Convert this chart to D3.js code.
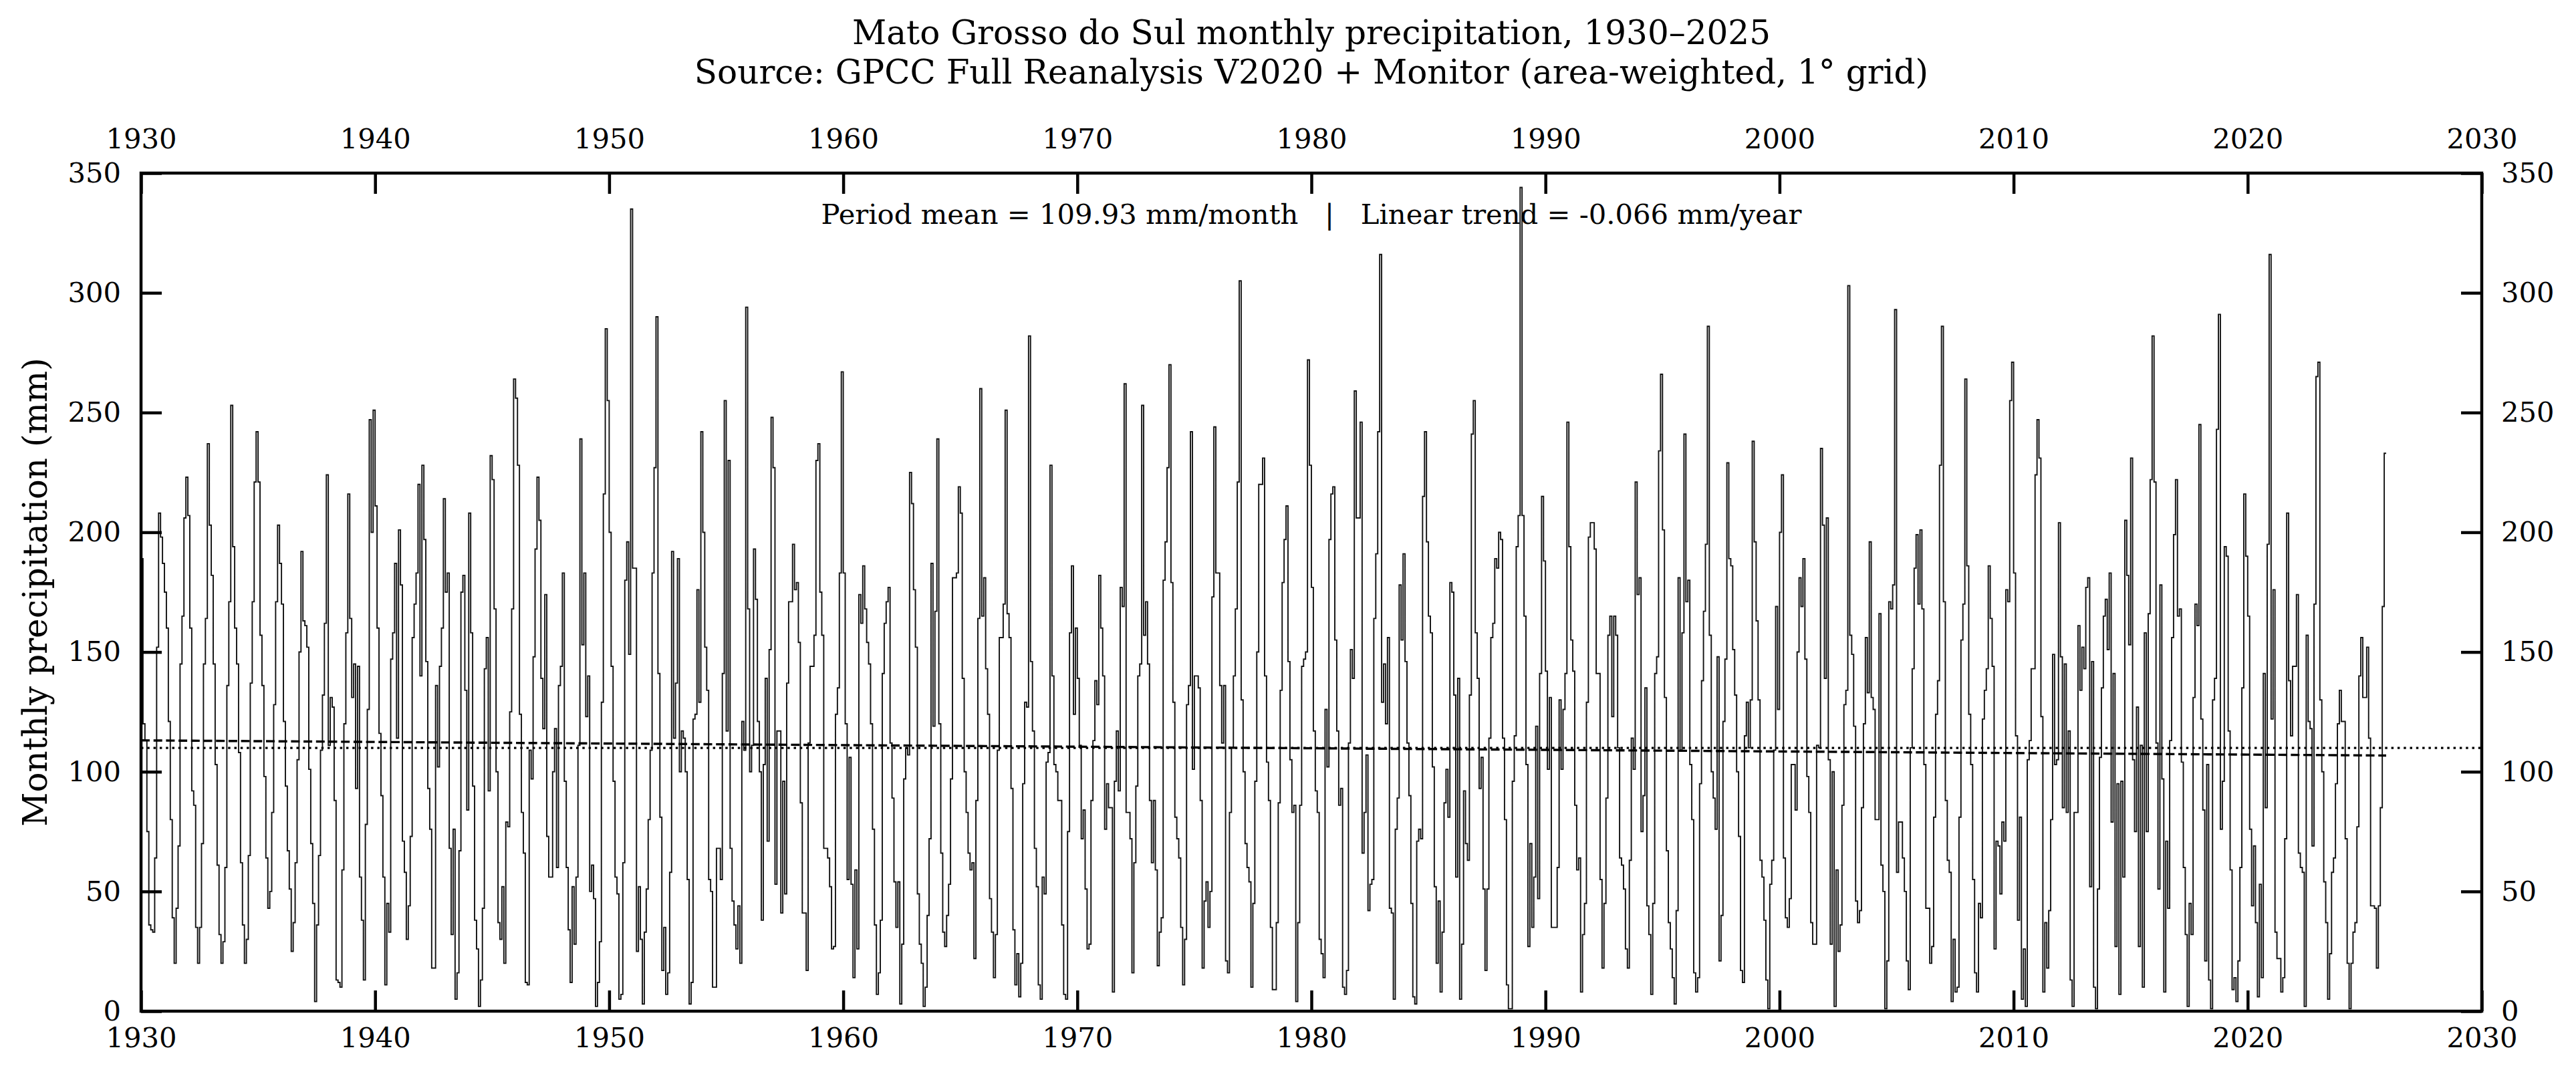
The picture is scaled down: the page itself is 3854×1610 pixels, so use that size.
<!DOCTYPE html>
<html>
<head>
<meta charset="utf-8">
<script src="https://cdn.jsdelivr.net/npm/d3@7"></script>
<style>
  html, body { margin: 0; padding: 0; background: #ffffff; }
  svg text { font-family: "DejaVu Serif", serif; fill: #000; }
</style>
</head>
<body>
<svg id="chart" width="3854" height="1610"></svg>
<script>
// ---------------- chart text ----------------
const titleLines = [
  "Mato Grosso do Sul monthly precipitation, 1930\u20132025",
  "Source: GPCC Full Reanalysis V2020 + Monitor (area-weighted, 1\u00b0 grid)"
];
const yLabel = "Monthly precipitation (mm)";
const periodMean = 109.93;      // mm/month
const trendPerYear = -0.066;    // mm/year
const annotation = `Period mean = ${periodMean.toFixed(2)} mm/month   |   Linear trend = ${trendPerYear.toFixed(3)} mm/year`;

// ---------------- axes ----------------
const xDomain = [1930, 2030];
const yDomain = [0, 350];
const xTicks = [1930, 1940, 1950, 1960, 1970, 1980, 1990, 2000, 2010, 2020, 2030];
const yTicks = [0, 50, 100, 150, 200, 250, 300, 350];

// ---------------- data: monthly precipitation (mm), Jan 1930 onward ----------------
const firstYear = 1930;
const precip1930s = [
  189,120,113,75,36,34,33,64,152,208,198,187,
  175,160,121,80,39,20,43,69,145,165,206,223,
  207,160,92,86,35,20,35,70,145,164,237,203,
  182,145,103,61,32,20,29,60,136,171,253,194,
  160,145,108,62,36,20,30,65,137,171,221,242,
  221,157,136,98,64,43,50,83,128,171,203,187,
  170,121,94,67,51,25,37,62,105,150,192,163,
  161,152,101,70,45,4,36,65,109,132,162,224,
  111,131,127,88,13,12,10,59,120,158,216,164,
  131,145,93,144,56,38,13,78,126,247,200,251
];
const precip1940s = [
  211,160,116,90,56,11,45,33,147,158,187,114,
  201,178,71,58,30,44,73,156,170,183,220,140,
  228,197,146,93,76,18,18,136,102,144,160,214,
  175,183,68,32,76,5,16,67,175,182,134,84,
  208,158,94,38,26,2,13,43,143,156,92,232,
  222,168,100,37,30,52,20,79,77,125,168,264,
  256,228,124,83,66,12,11,109,97,148,193,223,
  205,139,118,174,73,56,56,100,118,60,136,144,
  183,96,60,34,12,52,28,56,111,239,153,183,
  123,140,50,61,47,2,12,29,129,216,285,255
];
const precip1950s = [
  200,144,96,56,49,5,7,62,180,196,149,335,
  185,185,25,52,30,3,33,51,80,109,183,227,
  290,141,81,17,35,7,16,58,192,114,137,189,
  100,117,114,100,55,3,12,122,124,176,129,242,
  200,152,134,55,50,10,10,68,68,55,141,255,
  117,230,68,46,36,26,44,20,121,109,294,168,
  100,111,193,172,121,100,38,103,139,71,151,248,
  227,53,117,117,41,96,49,137,171,171,195,176,
  179,154,87,41,41,17,112,144,144,157,230,237,
  175,157,68,68,64,52,26,27,124,135,183,267
];
const precip1960s = [
  183,120,55,106,53,14,59,26,174,162,186,168,
  154,145,120,76,36,7,16,38,141,162,171,177,
  112,89,54,35,54,3,28,97,110,107,225,212,
  176,152,49,28,20,2,10,40,72,187,119,167,
  239,120,66,33,27,40,53,97,181,181,183,219,
  208,139,100,83,66,59,62,22,88,164,260,165,
  181,143,124,47,33,14,32,109,156,156,170,251,
  166,156,93,34,11,24,6,20,95,129,127,282,
  146,117,68,52,11,5,56,49,104,108,228,140,
  103,100,88,88,36,7,5,75,158,186,124,160
];
const precip1970s = [
  139,111,72,84,51,26,28,88,113,138,128,182,
  160,140,76,95,85,85,8,96,117,92,177,169,
  262,83,83,72,16,62,94,140,145,253,157,171,
  145,88,62,88,59,19,33,39,180,196,227,270,
  179,129,81,72,64,35,11,30,128,136,242,101,
  140,140,135,88,18,46,54,35,50,173,244,183,
  183,136,112,136,21,16,83,110,140,168,221,305,
  130,100,70,60,54,10,45,96,150,220,220,231,
  140,104,88,35,9,9,37,87,134,179,197,211,
  146,105,83,86,4,37,86,144,147,150,272,228
];
const precip1980s = [
  177,117,92,83,30,24,14,126,102,197,216,219,
  155,117,86,93,10,7,17,112,151,139,259,206,
  206,246,66,83,107,42,53,55,164,191,242,316,
  129,145,120,156,43,41,5,76,89,178,155,191,
  146,112,90,45,6,3,71,76,72,215,242,196,
  165,158,102,52,20,46,8,33,87,101,81,179,
  175,132,56,139,5,28,92,70,63,132,241,255,
  158,139,93,106,51,17,51,114,156,162,189,185,
  200,197,114,80,11,1,1,96,115,194,207,344,
  207,165,103,27,70,35,56,119,47,141,215,188
];
const precip1990s = [
  142,101,131,35,35,35,60,130,101,126,141,246,
  194,155,142,86,59,64,8,32,45,129,198,204,
  204,193,141,141,55,18,45,89,157,165,123,165,
  157,110,64,61,51,26,18,63,114,101,221,174,
  181,75,90,135,44,32,7,45,141,148,234,266,
  201,131,67,37,26,14,3,42,181,109,158,241,
  171,180,103,80,16,8,14,95,138,167,195,286,
  157,100,89,76,148,21,40,121,147,229,189,186,
  151,132,100,73,17,12,115,129,110,130,238,196,
  163,130,63,56,38,13,1,53,63,109,169,126
];
const precip2000s = [
  200,224,64,39,35,47,103,103,84,150,181,169,
  189,147,98,83,37,28,28,111,110,235,203,139,
  206,105,28,100,2,59,25,36,86,128,134,303,
  157,149,119,46,37,42,85,120,156,133,196,131,
  126,80,80,166,61,50,1,21,171,168,178,293,
  58,79,79,64,50,21,9,110,143,185,199,170,
  201,168,103,43,43,20,27,81,124,138,228,286,
  171,88,63,58,4,30,8,10,81,155,170,264,
  186,124,103,55,16,8,45,39,122,134,143,186,
  164,144,26,71,69,49,79,71,176,171,255,271
];
const precip2010s = [
  183,115,38,81,5,26,2,105,113,143,143,224,
  247,231,123,8,37,18,42,80,149,103,105,204,
  148,85,145,83,117,13,2,83,83,161,134,152,
  143,177,181,52,146,10,1,51,106,135,165,172,
  151,183,79,141,27,95,7,96,56,205,182,153,
  231,105,75,127,27,111,10,158,75,166,222,282,
  221,112,51,178,97,8,71,43,113,156,199,222,
  165,168,104,60,32,2,45,32,131,170,161,245,
  122,84,21,103,13,1,130,139,243,291,76,96,
  194,190,117,59,9,14,4,21,60,135,216,190
];
const precip2020s = [
  165,76,44,69,37,6,53,14,141,85,195,316,
  122,176,33,22,22,8,14,72,208,138,115,144,
  144,174,66,60,58,2,157,121,118,69,170,265,
  271,130,100,54,37,5,24,58,64,95,120,134,
  121,121,72,20,1,20,33,37,77,140,156,131,
  131,152,114,44,44,43,18,44,85,169,233
];

// ---------------- build series ----------------
const monthly = [].concat(precip1930s, precip1940s, precip1950s, precip1960s, precip1970s,
                          precip1980s, precip1990s, precip2000s, precip2010s, precip2020s);
const series = monthly.map((v, i) => ({ t: firstYear + i / 12, v }));
const tEnd = firstYear + monthly.length / 12;
series.push({ t: tEnd, v: monthly[monthly.length - 1] });   // close last month's step
const tStart = firstYear;
const tMid = (tStart + (firstYear + (monthly.length - 1) / 12)) / 2;
const trendAt = t => periodMean + trendPerYear * (t - tMid);

// ---------------- layout ----------------
const W = 3854, H = 1610;
const plot = { left: 211, right: 3713, top: 259, bottom: 1513 };
const tickLen = 31, tickW = 4.5, spineW = 4.5;
const fsTick = 41.7, fsTitle = 50, fsLabel = 50, fsNote = 41.7;

const svg = d3.select("#chart").attr("viewBox", `0 0 ${W} ${H}`);
svg.append("rect").attr("width", W).attr("height", H).attr("fill", "#fff");

const x = d3.scaleLinear().domain(xDomain).range([plot.left, plot.right]);
const y = d3.scaleLinear().domain(yDomain).range([plot.bottom, plot.top]);

// data step line
const line = d3.line().x(d => x(d.t)).y(d => y(d.v)).curve(d3.curveStepAfter);
svg.append("path").datum(series)
  .attr("d", line).attr("fill", "none")
  .attr("stroke", "#111").attr("stroke-width", 1.9)
  .attr("stroke-linejoin", "miter");

// linear trend (dashed)
svg.append("path").datum([tStart, tEnd])
  .attr("d", d3.line().x(t => x(t)).y(t => y(trendAt(t))))
  .attr("fill", "none").attr("stroke", "#000").attr("stroke-width", 3.4)
  .attr("stroke-dasharray", "13,5.7");

// period mean (dotted, full width)
svg.append("line")
  .attr("x1", x(xDomain[0])).attr("x2", x(xDomain[1]))
  .attr("y1", y(periodMean)).attr("y2", y(periodMean))
  .attr("stroke", "#000").attr("stroke-width", 3.4)
  .attr("stroke-dasharray", "3.5,5.8");

// axes
function styleAxis(g) {
  g.select(".domain").remove();
  g.attr("font-family", null).attr("font-size", null);
  g.selectAll(".tick line").attr("stroke", "#000").attr("stroke-width", tickW);
  g.selectAll(".tick text").attr("font-size", fsTick).attr("fill", "#000");
}
svg.append("g").attr("transform", `translate(0,${plot.bottom})`)
  .call(d3.axisBottom(x).tickValues(xTicks).tickFormat(d3.format("d"))
        .tickSizeInner(-tickLen).tickSizeOuter(0).tickPadding(24))
  .call(styleAxis);
svg.append("g").attr("transform", `translate(0,${plot.top})`)
  .call(d3.axisTop(x).tickValues(xTicks).tickFormat(d3.format("d"))
        .tickSizeInner(-tickLen).tickSizeOuter(0).tickPadding(37))
  .call(styleAxis);
svg.append("g").attr("transform", `translate(${plot.left},0)`)
  .call(d3.axisLeft(y).tickValues(yTicks).tickFormat(d3.format("d"))
        .tickSizeInner(-tickLen).tickSizeOuter(0).tickPadding(30))
  .call(styleAxis);
svg.append("g").attr("transform", `translate(${plot.right},0)`)
  .call(d3.axisRight(y).tickValues(yTicks).tickFormat(d3.format("d"))
        .tickSizeInner(-tickLen).tickSizeOuter(0).tickPadding(29))
  .call(styleAxis);

// frame
svg.append("rect")
  .attr("x", plot.left).attr("y", plot.top)
  .attr("width", plot.right - plot.left).attr("height", plot.bottom - plot.top)
  .attr("fill", "none").attr("stroke", "#000").attr("stroke-width", spineW);

// annotation inside plot
const cx = (plot.left + plot.right) / 2;
svg.append("text")
  .attr("x", cx).attr("y", 335)
  .attr("text-anchor", "middle").attr("font-size", fsNote)
  .style("white-space", "pre")
  .text(annotation);

// titles
svg.append("text").attr("x", cx).attr("y", 66)
  .attr("text-anchor", "middle").attr("font-size", fsTitle).text(titleLines[0]);
svg.append("text").attr("x", cx).attr("y", 125)
  .attr("text-anchor", "middle").attr("font-size", fsTitle).text(titleLines[1]);

// y label
svg.append("text")
  .attr("transform", `translate(70,${(plot.top + plot.bottom) / 2}) rotate(-90)`)
  .attr("text-anchor", "middle").attr("font-size", fsLabel).text(yLabel);
</script>
</body>
</html>
